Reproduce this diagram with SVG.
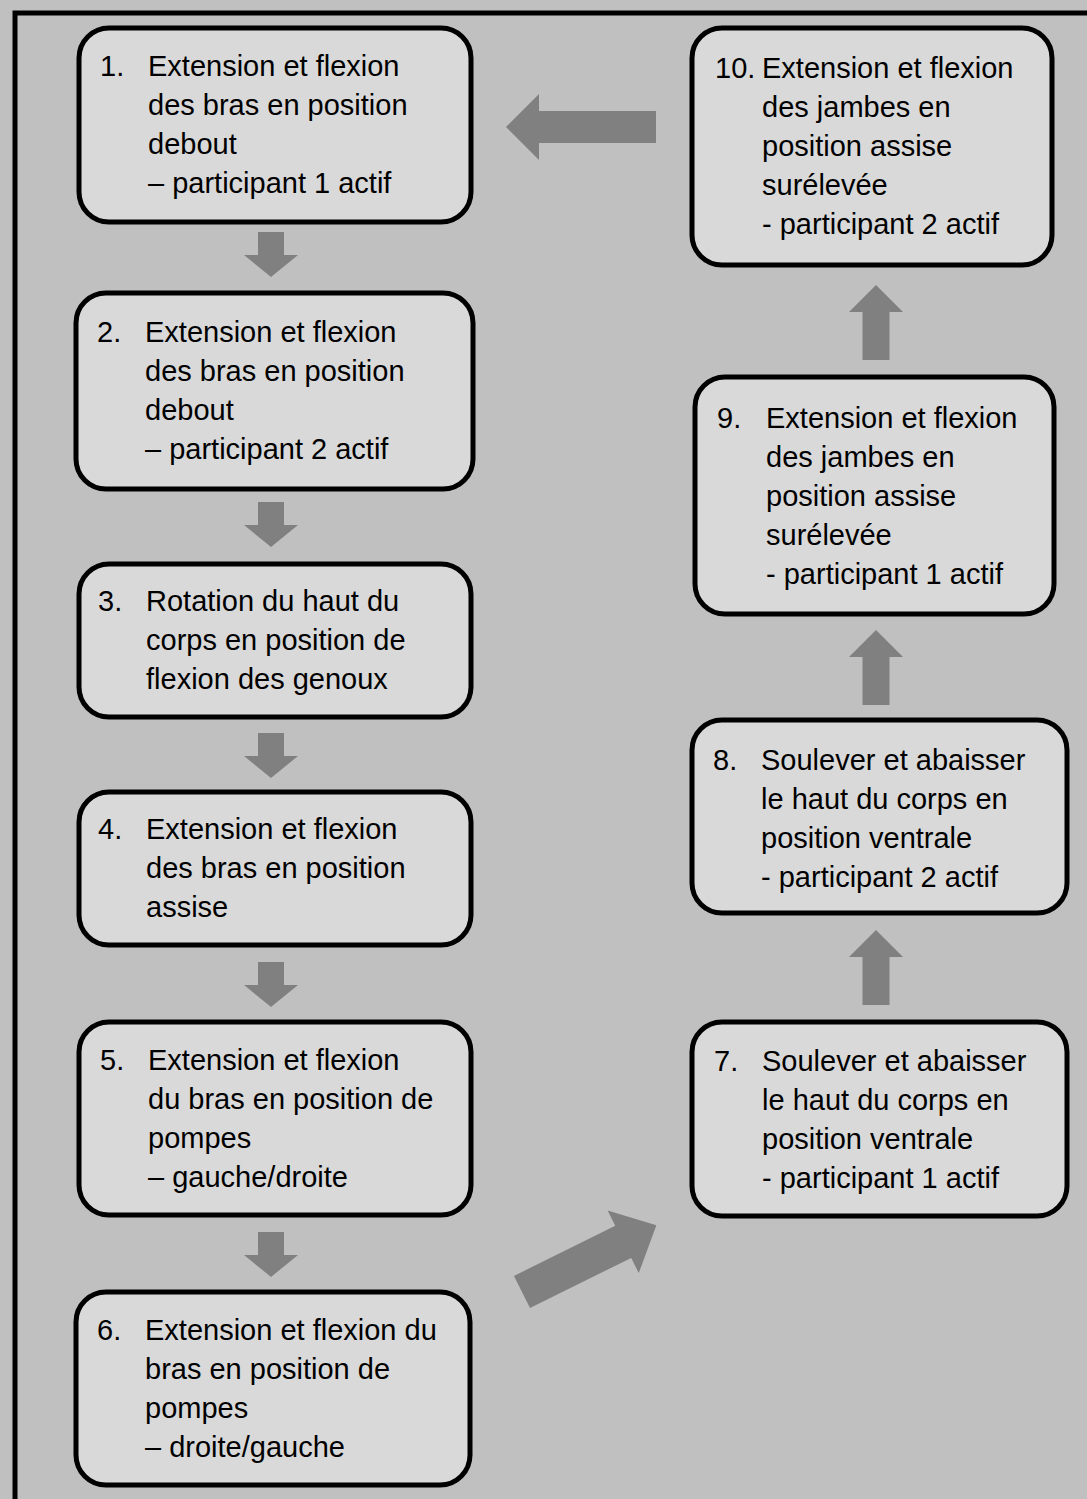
<svg xmlns="http://www.w3.org/2000/svg" width="1087" height="1499" viewBox="0 0 1087 1499">
<style>
.bg{fill:#c0c0c0}
.frame{fill:none;stroke:#000;stroke-width:5}
.box{fill:#d9d9d9;stroke:#000;stroke-width:5}
.arr{fill:#808080}
text{font-family:"Liberation Sans",Arial,sans-serif;font-size:29px;fill:#000}
</style>
<defs>
<polygon id="down" points="-13,0 13,0 13,23 27,23 0,45 -27,23 -13,23"/>
<polygon id="up" points="-13.5,75 13.5,75 13.5,27 27,27 0,0 -27,27 -13.5,27"/>
</defs>
<rect class="bg" x="0" y="0" width="1087" height="1499"/>
<path class="frame" d="M15,1505 V13 H1095"/>
<g id="connectors">
<polygon class="arr" points="656,111 539,111 539,94 506,127 539,160 539,143 656,143"/>
<use class="arr" href="#down" x="271" y="232"/>
<use class="arr" href="#down" x="271" y="502"/>
<use class="arr" href="#down" x="271" y="733"/>
<use class="arr" href="#down" x="271" y="962"/>
<use class="arr" href="#down" x="271" y="1232"/>
<polygon class="arr" transform="translate(522,1292) rotate(-26.4)" points="0,-18 113,-18 113,-35 150,0 113,35 113,18 0,18"/>
<use class="arr" href="#up" x="876" y="930"/>
<use class="arr" href="#up" x="876" y="630"/>
<use class="arr" href="#up" x="876" y="285"/>
</g>
<g id="node1">
<rect class="box" x="79" y="28" width="392" height="194" rx="30"/>
<text x="100" y="76">1.</text>
<text x="148" y="76">Extension et flexion<tspan x="148" dy="39">des bras en position</tspan><tspan x="148" dy="39">debout</tspan><tspan x="148" dy="39">– participant 1 actif</tspan></text>
</g>
<g id="node2">
<rect class="box" x="76" y="293" width="397" height="196" rx="30"/>
<text x="97" y="342">2.</text>
<text x="145" y="342">Extension et flexion<tspan x="145" dy="39">des bras en position</tspan><tspan x="145" dy="39">debout</tspan><tspan x="145" dy="39">– participant 2 actif</tspan></text>
</g>
<g id="node3">
<rect class="box" x="79" y="564" width="392" height="153" rx="30"/>
<text x="98" y="611">3.</text>
<text x="146" y="611">Rotation du haut du<tspan x="146" dy="39">corps en position de</tspan><tspan x="146" dy="39">flexion des genoux</tspan></text>
</g>
<g id="node4">
<rect class="box" x="79" y="792" width="392" height="153" rx="30"/>
<text x="98" y="839">4.</text>
<text x="146" y="839">Extension et flexion<tspan x="146" dy="39">des bras en position</tspan><tspan x="146" dy="39">assise</tspan></text>
</g>
<g id="node5">
<rect class="box" x="79" y="1022" width="392" height="193" rx="30"/>
<text x="100" y="1070">5.</text>
<text x="148" y="1070">Extension et flexion<tspan x="148" dy="39">du bras en position de</tspan><tspan x="148" dy="39">pompes</tspan><tspan x="148" dy="39">– gauche/droite</tspan></text>
</g>
<g id="node6">
<rect class="box" x="76" y="1292" width="394" height="193" rx="30"/>
<text x="97" y="1340">6.</text>
<text x="145" y="1340">Extension et flexion du<tspan x="145" dy="39">bras en position de</tspan><tspan x="145" dy="39">pompes</tspan><tspan x="145" dy="39">– droite/gauche</tspan></text>
</g>
<g id="node7">
<rect class="box" x="692" y="1022" width="375" height="194" rx="30"/>
<text x="714" y="1071">7.</text>
<text x="762" y="1071">Soulever et abaisser<tspan x="762" dy="39">le haut du corps en</tspan><tspan x="762" dy="39">position ventrale</tspan><tspan x="762" dy="39">- participant 1 actif</tspan></text>
</g>
<g id="node8">
<rect class="box" x="692" y="720" width="375" height="193" rx="30"/>
<text x="713" y="770">8.</text>
<text x="761" y="770">Soulever et abaisser<tspan x="761" dy="39">le haut du corps en</tspan><tspan x="761" dy="39">position ventrale</tspan><tspan x="761" dy="39">- participant 2 actif</tspan></text>
</g>
<g id="node9">
<rect class="box" x="695" y="377" width="359" height="237" rx="30"/>
<text x="717" y="428">9.</text>
<text x="766" y="428">Extension et flexion<tspan x="766" dy="39">des jambes en</tspan><tspan x="766" dy="39">position assise</tspan><tspan x="766" dy="39">surélevée</tspan><tspan x="766" dy="39">- participant 1 actif</tspan></text>
</g>
<g id="node10">
<rect class="box" x="692" y="28" width="360" height="237" rx="30"/>
<text x="715" y="78">10.</text>
<text x="762" y="78">Extension et flexion<tspan x="762" dy="39">des jambes en</tspan><tspan x="762" dy="39">position assise</tspan><tspan x="762" dy="39">surélevée</tspan><tspan x="762" dy="39">- participant 2 actif</tspan></text>
</g>
</svg>
